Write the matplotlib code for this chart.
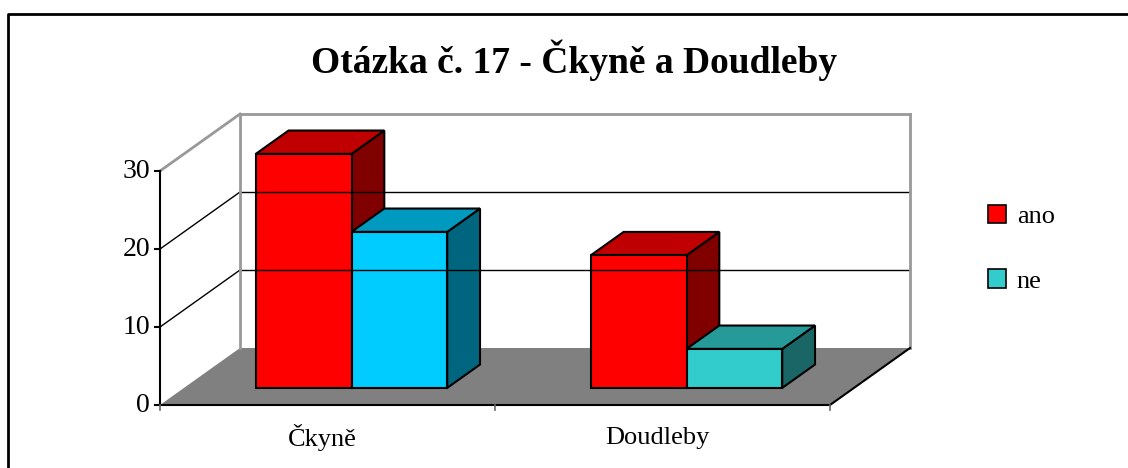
import matplotlib
matplotlib.use("Agg")
import matplotlib.pyplot as plt
from matplotlib.patches import Polygon, Patch

plt.rcParams['font.family'] = ['Liberation Serif', 'DejaVu Serif']

# data
categories = ["Čkyně", "Doudleby"]
series = ["ano", "ne"]
ano = [30, 17]
ne = [20, 5]
yticks = [0, 10, 20, 30]

# colours (front, top, side) per bar
ano_cols = [("#ff0000", "#c00000", "#800000")] * 2
ne_cols = [("#00ccff", "#0099bf", "#006680"), ("#33cccc", "#269999", "#1a6666")]
legend_cols = ["#ff0000", "#33cccc"]

# oblique depth (in data units) and bar geometry
DX = 80 / 335.0
DY = 57 / 7.8
F0, F1 = 0.30, 0.71
BW = 1 / 3.5

fig = plt.figure(figsize=(11.28, 4.68), dpi=100)
ax = fig.add_axes([0, 0, 1, 1])
ax.set_xlim(-160 / 335.0, (1128 - 160) / 335.0)
ax.set_ylim(-63 / 7.8, (468 - 63) / 7.8)
ax.axis("off")

n = len(categories)
top = yticks[-1]

# back wall and side gridlines
for v in yticks[1:]:
    c = "#999999" if v == top else "black"
    lw = 2 if v == top else 1
    ax.plot([0, DX], [v, v + DY], color=c, lw=lw)
    ax.plot([DX, n + DX], [v + DY, v + DY], color=c, lw=lw)
ax.plot([DX, DX], [DY, top + DY], color="#999999", lw=2)
ax.plot([n + DX, n + DX], [DY, top + DY], color="#999999", lw=2)

# floor
ax.add_patch(Polygon([(0, 0), (DX, DY), (n + DX, DY), (n, 0)],
                     closed=True, facecolor="#808080", edgecolor="none"))
ax.plot([0, n, n + DX], [0, 0, DY], color="black", lw=1.5)

# y axis
ax.plot([0, 0], [0, top], color="black", lw=1.5)
for v in yticks:
    ax.plot([-0.015, 0], [v, v], color="black", lw=1.5)
    ax.text(-0.03, v, str(v), ha="right", va="center", fontsize=20)

# category ticks
for i in range(n + 1):
    ax.plot([i, i], [0, -0.7], color="#666666", lw=1.2)


def bar3d(x0, h, cols):
    front, topc, side = cols
    x1 = x0 + BW
    ox0, oy0 = F0 * DX, F0 * DY
    ox1, oy1 = F1 * DX, F1 * DY
    kw = dict(closed=True, edgecolor="black", lw=1.5, joinstyle="miter")
    ax.add_patch(Polygon([(x1 + ox0, oy0), (x1 + ox1, oy1), (x1 + ox1, h + oy1),
                          (x1 + ox0, h + oy0)], facecolor=side, **kw))
    ax.add_patch(Polygon([(x0 + ox0, h + oy0), (x0 + ox1, h + oy1),
                          (x1 + ox1, h + oy1), (x1 + ox0, h + oy0)], facecolor=topc, **kw))
    ax.add_patch(Polygon([(x0 + ox0, oy0), (x1 + ox0, oy0), (x1 + ox0, h + oy0),
                          (x0 + ox0, h + oy0)], facecolor=front, **kw))


for i in range(n):
    c = i + 0.5
    bar3d(c - BW, ano[i], ano_cols[i])
    bar3d(c, ne[i], ne_cols[i])
    ax.text(c - 0.015, -4.2, categories[i], ha="center", va="center", fontsize=19)

fig.text(574 / 1128, 1 - 60 / 468, "Otázka č. 17 - Čkyně a Doudleby",
         ha="center", va="center", fontsize=27, fontweight="bold")

handles = [Patch(facecolor=col, edgecolor="black", lw=1.2) for col in legend_cols]
fig.legend(handles, series, loc="upper left", bbox_to_anchor=(964 / 1128, 1 - 181 / 468),
           frameon=False, fontsize=19, handlelength=0.7, handleheight=0.7,
           handletextpad=0.4, labelspacing=1.55)

# chart area border
fig.add_artist(plt.Line2D([8 / 1128, 8 / 1128, 1.0], [0, 1 - 14 / 468, 1 - 14 / 468],
                          transform=fig.transFigure, color="black", lw=2))

fig.savefig("out.png", dpi=100)
